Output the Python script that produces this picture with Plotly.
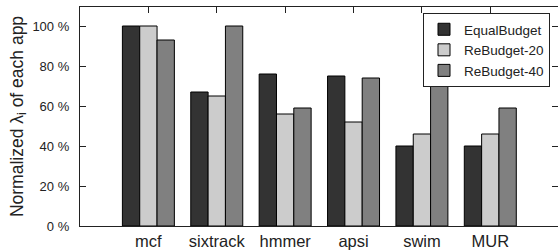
import plotly.graph_objects as go

apps = ["mcf", "sixtrack", "hmmer", "apsi", "swim", "MUR"]
equal_budget = [100, 67, 76, 75, 40, 40]
rebudget_20 = [100, 65, 56, 52, 46, 46]
rebudget_40 = [93, 100, 59, 74, 72, 59]
y_ticks = [0, 20, 40, 60, 80, 100]
y_tick_text = [f"{v} %" for v in y_ticks]

series = [
    ("EqualBudget", equal_budget, "#333333"),
    ("ReBudget-20", rebudget_20, "#cccccc"),
    ("ReBudget-40", rebudget_40, "#808080"),
]

FONT = "Liberation Sans, Arial, Helvetica, sans-serif"
INK = "#222222"

fig = go.Figure()
for name, vals, color in series:
    fig.add_trace(go.Bar(
        x=list(range(len(apps))), y=vals, name=name,
        marker=dict(color=color, line=dict(color="#000000", width=1)),
    ))

# invisible trace on y2 so the right-hand ticks are drawn
fig.add_trace(go.Scatter(x=[0], y=[0], yaxis="y2", mode="markers",
                         marker=dict(opacity=0), showlegend=False, hoverinfo="skip"))

fig.update_layout(
    width=558, height=250,
    margin=dict(l=80, r=0, t=7, b=24, autoexpand=False),
    paper_bgcolor="white", plot_bgcolor="white",
    barmode="group", bargap=0.24, bargroupgap=0,
    font=dict(family=FONT, color=INK),
    xaxis=dict(
        range=[-1, 5.99], tickmode="array",
        tickvals=list(range(len(apps))), ticktext=apps,
        ticks="inside", ticklen=6, tickcolor=INK,
        showline=True, linecolor=INK, linewidth=1.3, mirror="ticks",
        showgrid=False, zeroline=False, layer="below traces", automargin=False,
        tickfont=dict(size=16.5, color=INK), ticklabelstandoff=0,
    ),
    yaxis=dict(
        range=[0, 109.5], tickmode="array", tickvals=y_ticks, ticktext=y_tick_text,
        ticks="inside", ticklen=6, tickcolor=INK,
        showline=True, linecolor=INK, linewidth=1.3, mirror=False,
        showgrid=False, zeroline=False, automargin=False,
        tickfont=dict(size=13, color=INK), ticklabelstandoff=7,
        title=dict(text="Normalized λ<sub>i</sub> of each app",
                   font=dict(size=17.5, color=INK), standoff=4),
    ),
    yaxis2=dict(
        overlaying="y", side="right", range=[0, 109.5], tickmode="array",
        tickvals=y_ticks, ticks="inside", ticklen=6, tickcolor=INK,
        showticklabels=False, showline=False, showgrid=False, zeroline=False,
        automargin=False,
    ),
    legend=dict(
        x=(423 - 80) / 478, y=(226 - 13) / 219, xanchor="left", yanchor="top",
        bgcolor="white", bordercolor=INK, borderwidth=1,
        font=dict(size=13.5, color=INK),
        tracegroupgap=0, itemwidth=30,
    ),
    showlegend=True,
)

fig.write_html("out.html", config={"displayModeBar": False},
               post_script="document.body.style.margin='0px';")
